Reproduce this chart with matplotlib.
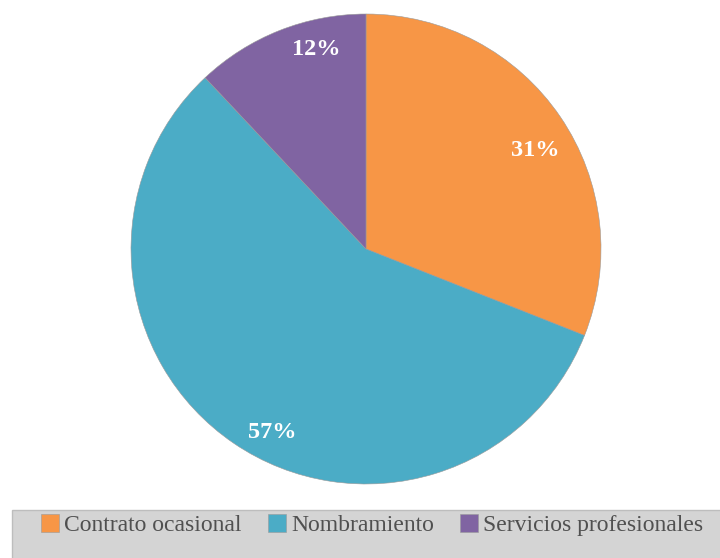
import matplotlib.pyplot as plt
from matplotlib.patches import Rectangle

categories = ["Contrato ocasional", "Nombramiento", "Servicios profesionales"]
shares = [31, 57, 12]
colors = ["#F79646", "#4BACC6", "#8064A2"]

fig = plt.figure(figsize=(7.2, 5.58), dpi=100)

# grey legend band along the bottom
band = Rectangle((12 / 720, -0.01), 1, 48 / 558 + 0.01, transform=fig.transFigure,
                 facecolor="#d4d4d4", edgecolor="#bdbdbd", linewidth=1.0, zorder=0)
fig.patches.append(band)

ax = fig.add_axes([131 / 720, 74 / 558, 470 / 720, 470 / 558])
wedges, _, autotexts = ax.pie(
    shares, colors=colors, startangle=90, counterclock=False,
    autopct=lambda p: f"{p:.0f}%", pctdistance=0.86,
    wedgeprops=dict(edgecolor="#9a9a9a", linewidth=0.4),
    textprops=dict(color="white", fontweight="bold", fontsize=17.5,
                   family="Liberation Serif"),
)
ax.set_aspect("equal")
ax.set_xlim(-1.0, 1.0)
ax.set_ylim(-1.0, 1.0)

# nudge labels a little toward where they sit in the chart
autotexts[0].set_position((0.72, 0.42))
autotexts[1].set_position((-0.40, -0.78))
autotexts[2].set_position((-0.21, 0.85))

fig.legend(wedges, categories, loc="center left",
           bbox_to_anchor=(41 / 720, 1 - 525 / 558), ncol=3, frameon=False,
           handlelength=0.77, handleheight=0.77, handletextpad=0.22,
           columnspacing=1.1, borderaxespad=0, borderpad=0,
           prop=dict(family="Liberation Serif", size=17), labelcolor="#505050")

fig.savefig("out.png", dpi=100)
